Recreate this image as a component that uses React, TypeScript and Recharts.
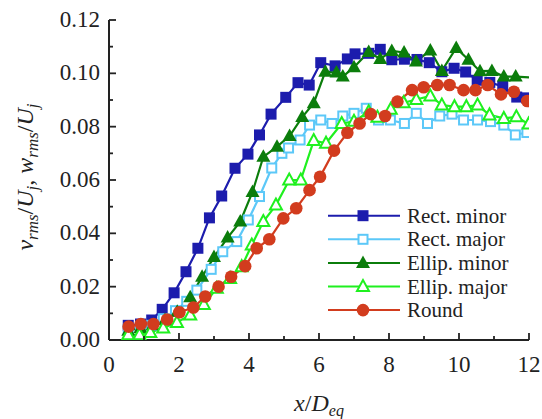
import React from 'react';
import { LineChart, Line, XAxis, YAxis, Legend } from 'recharts';

const rectMinorX = [0.55, 0.9, 1.22, 1.52, 1.86, 2.2, 2.54, 2.87, 3.22, 3.6, 3.97, 4.3, 4.63, 5.05, 5.4, 5.72, 6.05, 6.46, 6.81, 7.03, 7.42, 7.75, 8.08, 8.44, 8.8, 9.15, 9.51, 9.86, 10.19, 10.52, 10.88, 11.25, 11.65, 11.93];
const rectMinorY = [0.0055, 0.006, 0.0075, 0.0115, 0.0177, 0.0256, 0.0344, 0.0458, 0.054, 0.0644, 0.0697, 0.0769, 0.0847, 0.091, 0.0965, 0.0956, 0.104, 0.1028, 0.1054, 0.1073, 0.1075, 0.109, 0.1051, 0.1053, 0.1052, 0.104, 0.1006, 0.1019, 0.1005, 0.0974, 0.0966, 0.0951, 0.0911, 0.0908];

const rectMajorX = [0.55, 0.9, 1.22, 1.55, 1.9, 2.22, 2.51, 2.92, 3.25, 3.65, 3.98, 4.3, 4.65, 4.94, 5.13, 5.46, 5.73, 6.05, 6.37, 6.68, 7.0, 7.35, 7.7, 8.04, 8.44, 8.78, 9.1, 9.45, 9.8, 10.13, 10.53, 10.9, 11.28, 11.61, 11.94];
const rectMajorY = [0.004, 0.005, 0.0055, 0.008, 0.011, 0.0145, 0.0187, 0.0265, 0.0331, 0.0369, 0.045, 0.0538, 0.0645, 0.07, 0.072, 0.075, 0.0806, 0.0825, 0.0812, 0.084, 0.085, 0.0869, 0.0825, 0.0825, 0.0812, 0.085, 0.0812, 0.084, 0.0847, 0.0825, 0.0825, 0.0819, 0.0806, 0.0769, 0.0778];

const ellipMinorX = [0.55, 0.9, 1.25, 1.6, 1.95, 2.32, 2.66, 3.0, 3.39, 3.75, 4.1, 4.41, 4.8, 5.16, 5.52, 5.85, 6.18, 6.5, 6.68, 7.0, 7.42, 7.75, 8.08, 8.43, 8.77, 9.18, 9.51, 9.92, 10.27, 10.6, 10.94, 11.28, 11.62, 12.0];
const ellipMinorY = [0.0035, 0.0045, 0.0055, 0.0075, 0.0106, 0.016, 0.0237, 0.0311, 0.0384, 0.0444, 0.0555, 0.0687, 0.0725, 0.0765, 0.0836, 0.0888, 0.1006, 0.1003, 0.0988, 0.1023, 0.108, 0.1054, 0.1084, 0.1078, 0.1044, 0.1086, 0.1009, 0.1095, 0.1051, 0.1008, 0.1009, 0.0988, 0.0988, 0.0985];

const ellipMajorX = [0.55, 0.87, 1.18, 1.55, 1.94, 2.32, 2.71, 3.08, 3.46, 3.79, 4.08, 4.41, 4.77, 5.15, 5.48, 5.85, 6.2, 6.65, 7.0, 7.42, 7.67, 8.05, 8.42, 8.78, 9.18, 9.51, 9.87, 10.21, 10.53, 10.87, 11.28, 11.64, 11.99];
const ellipMajorY = [0.002, 0.002, 0.0028, 0.0045, 0.0066, 0.0094, 0.0133, 0.0194, 0.0231, 0.0275, 0.0356, 0.0444, 0.0506, 0.06, 0.06, 0.0748, 0.0738, 0.0812, 0.082, 0.0856, 0.0835, 0.0865, 0.089, 0.0902, 0.0915, 0.0881, 0.0875, 0.0875, 0.0881, 0.0844, 0.0831, 0.0837, 0.081];

const roundX = [0.56, 0.91, 1.27, 1.66, 2.01, 2.41, 2.75, 3.13, 3.49, 3.89, 4.22, 4.58, 4.98, 5.35, 5.73, 6.03, 6.43, 6.81, 7.16, 7.48, 7.89, 8.24, 8.66, 8.99, 9.38, 9.73, 10.13, 10.47, 10.82, 11.2, 11.57, 11.95];
const roundY = [0.005, 0.006, 0.006, 0.0077, 0.0104, 0.0122, 0.0163, 0.02, 0.0237, 0.0277, 0.0344, 0.0378, 0.0456, 0.0494, 0.0562, 0.0612, 0.071, 0.0777, 0.0812, 0.0847, 0.084, 0.0894, 0.0937, 0.0948, 0.0956, 0.0956, 0.0937, 0.0937, 0.0956, 0.0921, 0.0931, 0.0896];

const seriesNames = ['Rect. minor', 'Rect. major', 'Ellip. minor', 'Ellip. major', 'Round'];
const xTicks = [0, 1, 2, 3, 4, 5, 6, 7, 8, 9, 10, 11, 12];
const yTicks = [0, 0.01, 0.02, 0.03, 0.04, 0.05, 0.06, 0.07, 0.08, 0.09, 0.1, 0.11, 0.12];

const zip = (xs: number[], ys: number[]) => xs.map((x, i) => ({ x, y: ys[i] }));

const C_RMIN = '#1c1cad';
const C_RMAJ = '#5cc8f8';
const C_EMIN = '#0b7d0b';
const C_EMAJ = '#1ff01f';
const C_ROUND = '#d23c1e';
const AX = '#222';
const FONT = '"Liberation Serif", "DejaVu Serif", serif';

type Kind = 'sqF' | 'sqO' | 'trF' | 'trO' | 'circ';

const Marker = ({ kind, cx, cy, color }: { kind: Kind; cx: number; cy: number; color: string }) => {
  if (kind === 'sqF') return <rect x={cx - 5.5} y={cy - 5.5} width={11} height={11} fill={color} />;
  if (kind === 'sqO') return <rect x={cx - 4.5} y={cy - 4.5} width={9} height={9} fill="#fff" stroke={color} strokeWidth={2} />;
  if (kind === 'trF') {
    const pts = `${cx},${cy - 7.5} ${cx - 7},${cy + 5} ${cx + 7},${cy + 5}`;
    return <polygon points={pts} fill={color} />;
  }
  if (kind === 'trO') {
    const pts = `${cx},${cy - 6.5} ${cx - 6},${cy + 4.5} ${cx + 6},${cy + 4.5}`;
    return <polygon points={pts} fill="#fff" stroke={color} strokeWidth={2} strokeLinejoin="miter" />;
  }
  return <circle cx={cx} cy={cy} r={6.3} fill={color} />;
};

const makeDot = (kind: Kind, color: string, skipLast = false, n = 0) => (p: any) => {
  if (skipLast && p.index === n - 1) return <g key={`d${p.index}`} />;
  return <Marker key={`d${p.index}`} kind={kind} cx={p.cx} cy={p.cy} color={color} />;
};

const XTick = (props: any) => {
  const { x, y, payload } = props;
  const v = payload.value as number;
  const major = Math.round(v) % 2 === 0;
  return (
    <g>
      <line x1={x} y1={y} x2={x} y2={y - (major ? 7 : 4)} stroke={AX} strokeWidth={1.8} />
      {major && (
        <text x={x} y={y + 32} textAnchor="middle" fontSize={23} fontFamily={FONT} fill="#222">
          {v}
        </text>
      )}
    </g>
  );
};

const YTick = (props: any) => {
  const { x, y, payload } = props;
  const v = payload.value as number;
  const major = Math.round(v * 100) % 2 === 0;
  return (
    <g>
      <line x1={x} y1={y} x2={x + (major ? 7 : 4)} y2={y} stroke={AX} strokeWidth={1.8} />
      {major && (
        <text x={x - 9} y={y + 7} textAnchor="end" fontSize={23} fontFamily={FONT} fill="#222">
          {v.toFixed(2)}
        </text>
      )}
    </g>
  );
};

const XLabel = () => (
  <text x={319} y={411} textAnchor="middle" fontSize={24} fontFamily={FONT} fill="#222">
    <tspan fontStyle="italic">x</tspan>
    <tspan>/</tspan>
    <tspan fontStyle="italic">D</tspan>
    <tspan fontStyle="italic" fontSize={16} dy={5}>eq</tspan>
  </text>
);

const YLabel = () => (
  <text x={0} y={0} transform="translate(33,177) rotate(-90)" textAnchor="middle" fontSize={24} fontFamily={FONT} fill="#222">
    <tspan fontStyle="italic">v</tspan>
    <tspan fontStyle="italic" fontSize={17} dy={5}>rms</tspan>
    <tspan dy={-5}>/</tspan>
    <tspan fontStyle="italic">U</tspan>
    <tspan fontStyle="italic" fontSize={17} dy={5}>j</tspan>
    <tspan dy={-5}>, </tspan>
    <tspan fontStyle="italic">w</tspan>
    <tspan fontStyle="italic" fontSize={17} dy={5}>rms</tspan>
    <tspan dy={-5}>/</tspan>
    <tspan fontStyle="italic">U</tspan>
    <tspan fontStyle="italic" fontSize={17} dy={5}>j</tspan>
  </text>
);

const legendItems: { kind: Kind; color: string }[] = [
  { kind: 'sqF', color: C_RMIN },
  { kind: 'sqO', color: C_RMAJ },
  { kind: 'trF', color: C_EMIN },
  { kind: 'trO', color: C_EMAJ },
  { kind: 'circ', color: C_ROUND },
];

const LegendBox = () => (
  <svg width={210} height={125} style={{ display: 'block' }}>
    {legendItems.map((it, i) => {
      const cy = 15.7 + i * 23.6;
      return (
        <g key={i}>
          <line x1={8} y1={cy} x2={80} y2={cy} stroke={it.color} strokeWidth={2} />
          <Marker kind={it.kind} cx={43} cy={cy} color={it.color} />
          <text x={87} y={cy + 7} fontSize={21} fontFamily={FONT} fill="#222">
            {seriesNames[i]}
          </text>
        </g>
      );
    })}
  </svg>
);

export default function App() {
  const d1 = zip(rectMinorX, rectMinorY);
  const d2 = zip(rectMajorX, rectMajorY);
  const d3 = zip(ellipMinorX, ellipMinorY);
  const d4 = zip(ellipMajorX, ellipMajorY);
  const d5 = zip(roundX, roundY);
  return (
    <div style={{ position: 'absolute', left: 0, top: 0, width: 542, height: 419, background: '#fff' }}>
      <LineChart width={542} height={419} margin={{ top: 20, right: 13, left: 0, bottom: 0 }}>
        <XAxis
          type="number"
          dataKey="x"
          domain={[0, 12]}
          ticks={xTicks}
          interval={0}
          allowDataOverflow
          height={79}
          tickSize={0}
          tickMargin={0}
          tickLine={false}
          axisLine={{ stroke: AX, strokeWidth: 2 }}
          tick={<XTick />}
          label={<XLabel />}
        />
        <YAxis
          type="number"
          dataKey="y"
          domain={[0, 0.12]}
          ticks={yTicks}
          interval={0}
          allowDataOverflow
          width={109}
          tickSize={0}
          tickMargin={0}
          tickLine={false}
          axisLine={{ stroke: AX, strokeWidth: 2 }}
          tick={<YTick />}
          label={<YLabel />}
        />
        <Legend
          layout="horizontal"
          verticalAlign="middle"
          align="center"
          content={() => <LegendBox />}
          wrapperStyle={{ position: 'absolute', left: 320, top: 200, width: 210, height: 125 }}
        />
        <Line data={d1} dataKey="y" name={seriesNames[0]} type="linear" stroke={C_RMIN} strokeWidth={2.2} dot={makeDot('sqF', C_RMIN)} activeDot={false} isAnimationActive={false} />
        <Line data={d2} dataKey="y" name={seriesNames[1]} type="linear" stroke={C_RMAJ} strokeWidth={2.2} dot={makeDot('sqO', C_RMAJ)} activeDot={false} isAnimationActive={false} />
        <Line data={d3} dataKey="y" name={seriesNames[2]} type="linear" stroke={C_EMIN} strokeWidth={2.2} dot={makeDot('trF', C_EMIN, true, d3.length)} activeDot={false} isAnimationActive={false} />
        <Line data={d4} dataKey="y" name={seriesNames[3]} type="linear" stroke={C_EMAJ} strokeWidth={2.2} dot={makeDot('trO', C_EMAJ)} activeDot={false} isAnimationActive={false} />
        <Line data={d5} dataKey="y" name={seriesNames[4]} type="linear" stroke={C_ROUND} strokeWidth={2.2} dot={makeDot('circ', C_ROUND)} activeDot={false} isAnimationActive={false} />
      </LineChart>
    </div>
  );
}
